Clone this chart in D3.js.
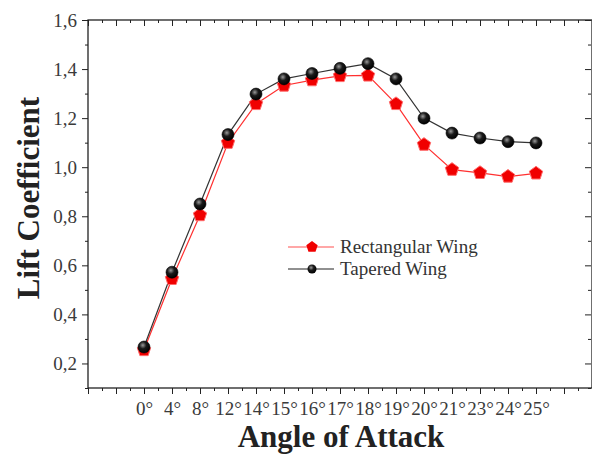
<!DOCTYPE html>
<html>
<head>
<meta charset="utf-8">
<script src="https://cdn.jsdelivr.net/npm/d3@7"></script>
<style>
  body { margin: 0; background: #fff; }
  svg text { font-family: 'Liberation Serif', 'Times New Roman', Times, serif !important; }
</style>
</head>
<body>
<div id="chart"></div>
<script>
// values
let angles = ['0°', '4°', '8°', '12°', '14°', '15°', '16°', '17°', '18°', '19°', '20°', '21°', '23°', '24°', '25°'];
let rectangular = [0.255, 0.545, 0.805, 1.10, 1.258, 1.333, 1.355, 1.372, 1.374, 1.258, 1.092, 0.99, 0.977, 0.962, 0.975];
let tapered = [0.267, 0.572, 0.85, 1.133, 1.298, 1.36, 1.382, 1.403, 1.422, 1.36, 1.20, 1.139, 1.119, 1.104, 1.099];
let yTicks = [0.2, 0.4, 0.6, 0.8, 1.0, 1.2, 1.4, 1.6];
let seriesNames = ['Rectangular Wing', 'Tapered Wing'];

let width = 592, height = 454;
let padLeft = 88, padRight = 592, padTop = 20, padBottom = 388;

let svg = d3.select('#chart').append('svg')
  .attr('width', width)
  .attr('height', height);

let defs = svg.append('defs');
let grad = defs.append('radialGradient')
  .attr('id', 'ball')
  .attr('cx', '40%').attr('cy', '35%').attr('r', '65%');
grad.append('stop').attr('offset', '0%').attr('stop-color', '#9a9a9a');
grad.append('stop').attr('offset', '45%').attr('stop-color', '#1a1a1a');
grad.append('stop').attr('offset', '100%').attr('stop-color', '#000');

// categories sit on a linear index scale so the frame can run past both ends
let x = d3.scaleLinear().domain([-2, 16]).range([padLeft, padRight]);
let y = d3.scaleLinear().domain([0.1, 1.6]).range([padBottom, padTop]);

let majorX = d3.range(-2, 17);
let minorX = d3.range(-1.5, 16, 1);
let minorY = d3.range(0.1, 1.6, 0.2);

// frame
svg.append('rect')
  .attr('x', padLeft).attr('y', padTop)
  .attr('width', padRight - padLeft).attr('height', padBottom - padTop)
  .attr('fill', 'none').attr('stroke', '#222').attr('stroke-width', 1.3);

// bottom axis
let xAxis = d3.axisBottom(x)
  .tickValues(majorX)
  .tickSize(6)
  .tickFormat(d => (d >= 0 && d < angles.length) ? angles[d] : '');
let gx = svg.append('g')
  .attr('transform', 'translate(0,' + padBottom + ')')
  .call(xAxis);
gx.select('.domain').remove();
gx.selectAll('line').attr('stroke', '#222');
gx.selectAll('text')
  .attr('font-size', 19)
  .attr('fill', '#3a3a3a')
  .attr('y', 27)
  .attr('dy', 0);
svg.append('g')
  .attr('transform', 'translate(0,' + padBottom + ')')
  .call(d3.axisBottom(x).tickValues(minorX).tickSize(3).tickFormat(''))
  .call(g => g.select('.domain').remove())
  .selectAll('line').attr('stroke', '#222');

// top axis, ticks point inward
svg.append('g')
  .attr('transform', 'translate(0,' + padTop + ')')
  .call(d3.axisTop(x).tickValues(majorX).tickSize(-6).tickFormat(''))
  .call(g => g.select('.domain').remove())
  .selectAll('line').attr('stroke', '#222');
svg.append('g')
  .attr('transform', 'translate(0,' + padTop + ')')
  .call(d3.axisTop(x).tickValues(minorX).tickSize(-3).tickFormat(''))
  .call(g => g.select('.domain').remove())
  .selectAll('line').attr('stroke', '#222');

// left axis
let gy = svg.append('g')
  .attr('transform', 'translate(' + padLeft + ',0)')
  .call(d3.axisLeft(y).tickValues(yTicks).tickSize(6)
    .tickFormat(d => d3.format('.1f')(d).replace('.', ',')));
gy.select('.domain').remove();
gy.selectAll('line').attr('stroke', '#222');
gy.selectAll('text')
  .attr('font-size', 19)
  .attr('fill', '#3a3a3a')
  .attr('x', -11);
svg.append('g')
  .attr('transform', 'translate(' + padLeft + ',0)')
  .call(d3.axisLeft(y).tickValues(minorY).tickSize(3).tickFormat(''))
  .call(g => g.select('.domain').remove())
  .selectAll('line').attr('stroke', '#222');

// right axis, ticks inward
svg.append('g')
  .attr('transform', 'translate(' + (padRight - 1) + ',0)')
  .call(d3.axisRight(y).tickValues(yTicks).tickSize(-6).tickFormat(''))
  .call(g => g.select('.domain').remove())
  .selectAll('line').attr('stroke', '#222');
svg.append('g')
  .attr('transform', 'translate(' + (padRight - 1) + ',0)')
  .call(d3.axisRight(y).tickValues(minorY).tickSize(-3).tickFormat(''))
  .call(g => g.select('.domain').remove())
  .selectAll('line').attr('stroke', '#222');

// lines
let line = d3.line()
  .x((d, i) => x(i))
  .y(d => y(d));

svg.append('path')
  .datum(rectangular)
  .attr('fill', 'none')
  .attr('stroke', '#ff3030')
  .attr('stroke-width', 1.2)
  .attr('d', line);

svg.append('path')
  .datum(tapered)
  .attr('fill', 'none')
  .attr('stroke', '#333')
  .attr('stroke-width', 1.2)
  .attr('d', line);

function pentPath(r) {
  let pts = d3.range(5).map(k => {
    let a = -Math.PI / 2 + k * 2 * Math.PI / 5;
    return [r * Math.cos(a), r * Math.sin(a)];
  });
  return 'M' + pts.map(p => p.join(',')).join('L') + 'Z';
}

svg.selectAll('.rect-pt')
  .data(rectangular)
  .enter()
  .append('path')
  .attr('class', 'rect-pt')
  .attr('transform', (d, i) => 'translate(' + x(i) + ',' + y(d) + ')')
  .attr('d', pentPath(7))
  .attr('fill', '#f00000')
  .attr('stroke', '#ff6a6a')
  .attr('stroke-width', 1);

svg.selectAll('.tap-pt')
  .data(tapered)
  .enter()
  .append('circle')
  .attr('class', 'tap-pt')
  .attr('cx', (d, i) => x(i))
  .attr('cy', d => y(d))
  .attr('r', 6)
  .attr('fill', 'url(#ball)')
  .attr('stroke', '#000')
  .attr('stroke-width', 0.6);

// legend
let legend = svg.append('g');
let legY = [247, 269];
legend.append('line')
  .attr('x1', 288).attr('x2', 334).attr('y1', legY[0]).attr('y2', legY[0])
  .attr('stroke', '#ff5050').attr('stroke-width', 1.2);
legend.append('path')
  .attr('transform', 'translate(312,' + legY[0] + ')')
  .attr('d', pentPath(6))
  .attr('fill', '#f00000');
legend.append('line')
  .attr('x1', 288).attr('x2', 334).attr('y1', legY[1]).attr('y2', legY[1])
  .attr('stroke', '#222').attr('stroke-width', 1.2);
legend.append('circle')
  .attr('cx', 312).attr('cy', legY[1]).attr('r', 4.5)
  .attr('fill', 'url(#ball)');
legend.selectAll('text')
  .data(seriesNames)
  .enter()
  .append('text')
  .attr('x', 340)
  .attr('y', (d, i) => legY[i] + 6)
  .attr('font-size', 19)
  .attr('fill', '#333')
  .text(d => d);

// axis titles
svg.append('text')
  .attr('text-anchor', 'middle')
  .attr('transform', 'translate(39,' + 198 + ')rotate(-90)')
  .attr('font-size', 31)
  .attr('font-weight', 'bold')
  .attr('fill', '#222')
  .text('Lift Coefficient');

svg.append('text')
  .attr('text-anchor', 'middle')
  .attr('x', 341)
  .attr('y', 447)
  .attr('font-size', 31)
  .attr('font-weight', 'bold')
  .attr('fill', '#222')
  .text('Angle of Attack');
</script>
</body>
</html>
